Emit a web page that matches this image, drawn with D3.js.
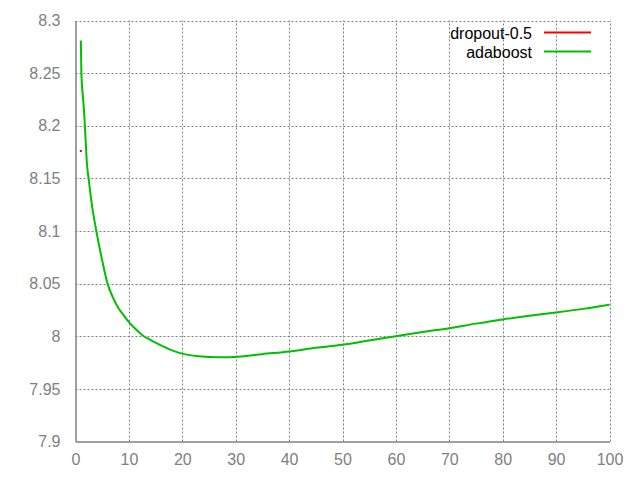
<!DOCTYPE html>
<html><head><meta charset="utf-8">
<script src="https://cdn.jsdelivr.net/npm/d3@7"></script>
<style>
html,body{margin:0;padding:0;background:#fff;}
svg{display:block;font-family:"Liberation Sans",Arial,sans-serif;}
</style></head>
<body>
<svg id="chart" width="640" height="480"></svg>
<script>
const xTicks = [0,10,20,30,40,50,60,70,80,90,100];
const yTicks = [7.9,7.95,8,8.05,8.1,8.15,8.2,8.25,8.3];
const seriesNames = ["dropout-0.5","adaboost"];
const dropoutX = [1];
const dropoutY = [8.176];
const adaX = [1, 1.1, 1.4, 1.6, 1.9, 2.1, 2.5, 2.9, 3.9, 5, 6, 7, 8, 9, 10, 11, 12.4, 14, 15.9, 17.5, 19.6, 23, 27, 31, 35, 40, 45, 50, 55, 60, 65, 70, 75, 80, 85, 90, 95, 100];
const adaY = [8.281, 8.25, 8.227, 8.214, 8.186, 8.167, 8.148, 8.131, 8.100, 8.072, 8.050, 8.037, 8.027, 8.020, 8.0134, 8.008, 8.0015, 7.9965, 7.9915, 7.9878, 7.984, 7.981, 7.980, 7.9808, 7.983, 7.9855, 7.989, 7.992, 7.996, 8.000, 8.004, 8.0077, 8.012, 8.016, 8.0195, 8.0226, 8.026, 8.030];

const svg = d3.select("#chart");
const L = 75.5, R = 609.5, T = 20.5, B = 441.5;
const x = d3.scaleLinear().domain([0,100]).range([L,R]);
const y = d3.scaleLinear().domain([7.9,8.3]).range([B,T]);
const gray = "#808080";

// grid
const g = svg.append("g");
g.selectAll("line.vg").data(xTicks.slice(1)).enter().append("line")
  .attr("x1",d=>Math.round(x(d))+0.5).attr("x2",d=>Math.round(x(d))+0.5)
  .attr("y1",B).attr("y2",T)
  .attr("stroke",gray).attr("stroke-width",1).attr("stroke-dasharray","2,2");
g.selectAll("line.hg").data(yTicks.slice(1)).enter().append("line")
  .attr("y1",d=>Math.round(y(d))+0.5).attr("y2",d=>Math.round(y(d))+0.5)
  .attr("x1",L).attr("x2",R)
  .attr("stroke",gray).attr("stroke-width",1).attr("stroke-dasharray","2,2");

// axes (left & bottom border)
const xAxis = d3.axisBottom(x).tickValues(xTicks).tickSize(0).tickPadding(12).tickFormat(d3.format("d"));
const yAxis = d3.axisLeft(y).tickValues(yTicks).tickSize(0).tickPadding(15).tickFormat(d=>String(+d.toFixed(2)));
const gx = svg.append("g").attr("transform",`translate(0,${B})`).call(xAxis);
const gy = svg.append("g").attr("transform",`translate(${L},0)`).call(yAxis);
[gx,gy].forEach(a=>{
  a.select(".domain").attr("stroke",gray).attr("stroke-width",1.5);
  a.selectAll("text").attr("fill",gray).style("font-size","16px").style("font-family","'Liberation Sans',Arial,sans-serif");
});

// series
const line = d3.line().x(d=>x(d[0])).y(d=>y(d[1])).curve(d3.curveMonotoneX);
const adaData = adaX.map((v,i)=>[v,adaY[i]]);
svg.append("path").datum(adaData).attr("d",line)
  .attr("fill","none").attr("stroke","#00c000").attr("stroke-width",2);
const dropData = dropoutX.map((v,i)=>[v,dropoutY[i]]);
svg.selectAll("rect.dp").data(dropData).enter().append("rect")
  .attr("x",d=>x(d[0])-1).attr("y",d=>y(d[1])-1).attr("width",2).attr("height",2).attr("fill","#ff0000");

// legend
const colors = ["#ff0000","#00c000"];
const leg = svg.append("g");
seriesNames.forEach((n,i)=>{
  const yy = 33 + i*19;
  leg.append("text").attr("x",532).attr("y",yy).attr("dy","0.35em").attr("text-anchor","end")
    .style("font-size","16px").attr("fill","#000").text(n);
  leg.append("line").attr("x1",544).attr("x2",591).attr("y1",yy-0.5).attr("y2",yy-0.5)
    .attr("stroke",colors[i]).attr("stroke-width",2);
});
</script>
</body></html>
